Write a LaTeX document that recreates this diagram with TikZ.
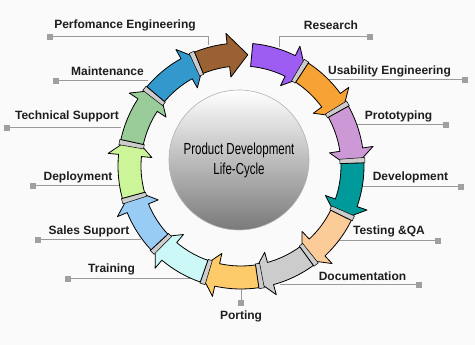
\documentclass[tikz,border=0pt]{standalone}
\usepackage{fontspec}
\setmainfont{Liberation Sans}
\definecolor{c0}{HTML}{9D5CF2}
\definecolor{c1}{HTML}{F7A234}
\definecolor{c2}{HTML}{CC99D6}
\definecolor{c3}{HTML}{009A9A}
\definecolor{c4}{HTML}{FBCB98}
\definecolor{c5}{HTML}{CCCCCC}
\definecolor{c6}{HTML}{FDCB69}
\definecolor{c7}{HTML}{CCF8F8}
\definecolor{c8}{HTML}{99CCF5}
\definecolor{c9}{HTML}{CCF59A}
\definecolor{c10}{HTML}{99CC99}
\definecolor{c11}{HTML}{3399CC}
\definecolor{c12}{HTML}{9A6233}
\definecolor{bgc}{HTML}{FAFAFA}
\definecolor{leadc}{HTML}{9A9A9A}
\definecolor{sqc}{HTML}{A0A0A0}
\definecolor{txt}{HTML}{1E1E1E}
\definecolor{hubdark}{HTML}{7A7A7A}
\begin{document}
\begin{tikzpicture}[x=1pt,y=1pt,
  lbl/.style={font=\bfseries\fontsize{12}{14}\selectfont, text=txt, inner sep=0pt},
  sq/.style={rectangle, fill=sqc, minimum size=6pt, inner sep=0pt},
  lead/.style={draw=leadc, line width=1pt},
  arrowline/.style={draw=black, line width=0.8pt, line join=round},
  bevel/.style={fill=gray!40, draw=black, line width=0.5pt}]
\useasboundingbox (0,0) rectangle (475,345);
\fill[bgc] (0,0) rectangle (475,345);

% labels
\node[lbl] (l12) at (125,320) {Perfomance Engineering};
\node[lbl] (l0) at (331,320) {Research};
\node[lbl] (l11) at (107.5,274) {Maintenance};
\node[lbl] (l1) at (389.5,274) {Usability Engineering};
\node[lbl] (l10) at (67,229) {Technical Support};
\node[lbl] (l2) at (398.5,229) {Prototyping};
\node[lbl] (l9) at (78,168) {Deployment};
\node[lbl] (l3) at (410.5,168) {Development};
\node[lbl] (l8) at (89,114) {Sales Support};
\node[lbl] (l4) at (389,114) {Testing \&QA};
\node[lbl] (l7) at (111.5,76) {Training};
\node[lbl] (l5) at (362.5,69) {Documentation};
\node[lbl] (l6) at (241,29) {Porting};

% leader lines
\node[sq] (s12) at (50,308) {};
\coordinate (a12) at (208,308); \coordinate (b12) at (208,300);
\draw[lead] (s12) -- (a12) -- (b12);
\node[sq] (s0) at (370,308) {};
\coordinate (a0) at (279,308); \coordinate (b0) at (279,298);
\draw[lead] (s0) -- (a0) -- (b0);
\node[sq] (s11) at (56,264) {};
\coordinate (a11) at (148,264);
\draw[lead] (s11) -- (a11);
\node[sq] (s1) at (465,265) {};
\coordinate (a1) at (328,265);
\draw[lead] (s1) -- (a1);
\node[sq] (s10) at (7,217) {};
\coordinate (a10) at (121,217);
\draw[lead] (s10) -- (a10);
\node[sq] (s2) at (446,220) {};
\coordinate (a2) at (355,220);
\draw[lead] (s2) -- (a2);
\node[sq] (s9) at (33,159) {};
\coordinate (a9) at (120,159);
\draw[lead] (s9) -- (a9);
\node[sq] (s3) at (461,158) {};
\coordinate (a3) at (360,158);
\draw[lead] (s3) -- (a3);
\node[sq] (s8) at (38,105) {};
\coordinate (a8) at (141,105);
\draw[lead] (s8) -- (a8);
\node[sq] (s4) at (438,104) {};
\coordinate (a4) at (337,104);
\draw[lead] (s4) -- (a4);
\node[sq] (s7) at (68,66) {};
\coordinate (a7) at (190,66);
\draw[lead] (s7) -- (a7);
\node[sq] (s5) at (419,60) {};
\coordinate (a5) at (280,60);
\draw[lead] (s5) -- (a5);
\node[sq] (s6) at (241,42) {};
\coordinate (a6) at (241,58);
\draw[lead] (s6) -- (a6);

% ring of arrows
\begin{scope}[shift={(241,179)}]
\foreach \i in {0,...,12}{
  \pgfmathsetmacro\s{84.5-\i*27.6923}
  \ifnum\i=12 \pgfmathsetmacro\e{-273.5}\else\pgfmathsetmacro\e{\s-30.69}\fi
  \pgfmathsetmacro\b{\e+10}
  \pgfmathsetmacro\t{\s+2.5}
  \ifnum\i>0
    \draw[bevel] (\s:124pt) arc[start angle=\s, end angle=\t, radius=124pt] -- (\t:99pt) arc[start angle=\t, end angle=\s, radius=99pt] -- cycle;
  \fi
  \draw[arrowline, fill=c\i] (\s:123pt) arc[start angle=\s, end angle=\b, radius=123pt] -- (\b:133.5pt) -- (\e:111.5pt) -- (\b:89.5pt) -- (\b:100pt) arc[start angle=\b, end angle=\s, radius=100pt] -- cycle;
}
\end{scope}

% hub
\node[circle, draw=gray!60, line width=0.6pt, minimum size=140pt, inner sep=0pt,
  top color=white, bottom color=hubdark] (hub) at (239,185) {};
\node[align=center, text=black, font=\fontsize{16}{20}\selectfont] (hubtext) at (hub.center)
  {\scalebox{0.72}[1]{Product Development}\\\scalebox{0.72}[1]{Life-Cycle}};
\end{tikzpicture}
\end{document}
